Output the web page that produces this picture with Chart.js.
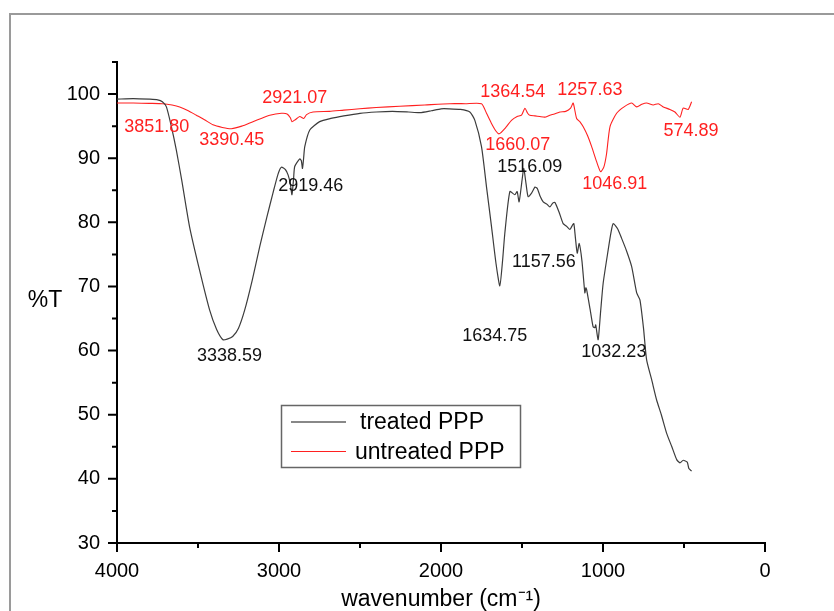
<!DOCTYPE html>
<html lang="en">
<head>
<meta charset="UTF-8">
<title>FTIR - treated / untreated PPP</title>
<script src="https://cdn.jsdelivr.net/npm/chart.js"></script>
<style>
    html, body { margin: 0; padding: 0; background: #fff; }
</style>
</head>
<body>
<canvas id="ftirChart" width="834" height="611"></canvas>
<script>
// treated PPP (dark curve)
const treatedWn = [4000, 3900, 3800, 3749, 3720, 3695, 3665, 3634, 3600, 3552, 3490, 3428, 3385, 3346, 3320, 3286, 3250, 3212, 3165, 3119, 3075, 3037, 3005, 2985, 2960, 2944, 2930, 2920, 2910, 2903, 2872, 2862, 2855, 2848, 2841, 2810, 2749, 2680, 2600, 2500, 2400, 2300, 2200, 2130, 2060, 2000, 1950, 1880, 1822, 1791, 1750, 1719, 1688, 1660, 1637, 1620, 1606, 1575, 1544, 1530, 1518, 1500, 1489, 1475, 1462, 1440, 1420, 1406, 1390, 1369, 1345, 1328, 1310, 1297, 1270, 1246, 1225, 1204, 1190, 1180, 1170, 1159, 1147, 1130, 1112, 1106, 1101, 1080, 1061, 1050, 1045, 1030, 1015, 999, 968, 950, 937, 910, 885, 854, 823, 792, 772, 750, 731, 700, 669, 640, 607, 575, 545, 525, 505, 480, 470, 453];
const treatedT = [99.2, 99.3, 99.2, 99.1, 98.8, 98.0, 95.0, 91.3, 86.5, 79.3, 72.5, 66.3, 63.3, 61.7, 61.8, 62.2, 63.5, 66.3, 71.0, 76.2, 80.8, 84.6, 87.6, 88.6, 88.2, 87.4, 86.0, 84.3, 86.8, 88.7, 89.9, 89.6, 88.4, 90.0, 91.8, 94.4, 95.7, 96.2, 96.6, 97.0, 97.2, 97.3, 97.2, 97.1, 97.4, 97.7, 97.7, 97.6, 97.2, 95.9, 91.8, 85.5, 79.3, 73.5, 70.1, 74.0, 78.3, 84.8, 84.3, 84.8, 83.2, 86.5, 88.4, 86.0, 84.0, 84.6, 85.5, 85.3, 84.2, 83.2, 82.8, 82.4, 83.0, 83.1, 81.5, 79.8, 79.4, 78.9, 79.5, 79.8, 77.5, 75.2, 76.7, 74.0, 69.0, 69.8, 69.5, 66.5, 63.7, 63.6, 64.0, 61.7, 66.0, 70.5, 75.7, 78.5, 79.8, 79.0, 77.5, 75.5, 73.1, 69.0, 67.9, 63.5, 58.6, 55.5, 52.3, 50.0, 47.1, 45.0, 43.0, 42.5, 42.9, 42.6, 41.6, 41.2];

// untreated PPP (red curve)
const untreatedWn = [4000, 3900, 3800, 3718, 3660, 3613, 3560, 3510, 3460, 3408, 3350, 3294, 3230, 3161, 3110, 3057, 2985, 2950, 2930, 2920, 2900, 2872, 2847, 2830, 2790, 2688, 2600, 2502, 2400, 2255, 2100, 1946, 1850, 1750, 1719, 1690, 1660, 1641, 1600, 1565, 1530, 1503, 1482, 1465, 1452, 1420, 1390, 1360, 1328, 1300, 1266, 1230, 1200, 1184, 1163, 1140, 1122, 1095, 1070, 1040, 1015, 995, 978, 957, 916, 870, 823, 792, 760, 731, 690, 659, 628, 587, 556, 525, 505, 474, 453];
const untreatedT = [98.6, 98.6, 98.55, 98.5, 98.3, 98.0, 97.4, 96.7, 96.0, 95.2, 94.8, 94.6, 95.0, 95.7, 96.2, 96.7, 97.0, 96.9, 96.3, 95.7, 96.0, 96.5, 96.2, 96.8, 97.2, 97.3, 97.5, 97.7, 97.9, 98.1, 98.3, 98.5, 98.5, 98.5, 97.0, 95.5, 94.2, 93.8, 94.8, 95.9, 96.5, 96.7, 97.8, 97.0, 96.7, 96.6, 96.5, 96.4, 96.7, 96.9, 97.2, 97.3, 97.8, 98.6, 96.2, 95.6, 94.9, 93.5, 91.8, 89.5, 87.9, 88.6, 90.7, 94.9, 97.0, 98.0, 98.6, 98.0, 98.4, 98.6, 98.3, 98.5, 98.0, 97.6, 97.2, 96.4, 97.8, 97.6, 98.8];

// peak annotations: text, and where the text sits (wavenumber, %T)
const treatedPeakText = ['3338.59', '2919.46', '1634.75', '1516.09', '1157.56', '1032.23'];
const treatedPeakWn = [3305, 2804, 1668, 1452, 1365, 933];
const treatedPeakT = [59.1, 85.6, 62.2, 88.7, 73.8, 59.8];
const untreatedPeakText = ['3851.80', '3390.45', '2921.07', '1364.54', '1257.63', '1660.07', '1046.91', '574.89'];
const untreatedPeakWn = [3755, 3292, 2903, 1557, 1081, 1526, 927, 457];
const untreatedPeakT = [94.9, 92.8, 99.4, 100.3, 100.7, 92.1, 86.05, 94.2];

// axis ticks
const xMajorTicks = [4000, 3000, 2000, 1000, 0];
const xMinorTicks = [3500, 2500, 1500, 500];
const yMajorTicks = [30, 40, 50, 60, 70, 80, 90, 100];
const yMinorTicks = [35, 45, 55, 65, 75, 85, 95, 105];

const seriesNames = ['treated PPP', 'untreated PPP'];
const treatedColor = '#3c3c3c';
const untreatedColor = '#ff2020';

Chart.defaults.font.family = "'Liberation Sans', Arial, sans-serif";
Chart.defaults.color = '#000';

function toPoints(xs, ys) {
    return xs.map((v, i) => ({ x: v, y: ys[i] }));
}

// grey frame, only top and left are visible in the picture
const framePlugin = {
    id: 'frame',
    beforeDraw(chart) {
        const ctx = chart.ctx;
        ctx.save();
        ctx.strokeStyle = '#9a9a9a';
        ctx.lineWidth = 2;
        ctx.beginPath();
        ctx.moveTo(10, 611);
        ctx.lineTo(10, 14);
        ctx.lineTo(834, 14);
        ctx.stroke();
        ctx.restore();
    }
};

// outward tick marks (major + minor), %T label, legend box and peak labels
const decorPlugin = {
    id: 'decor',
    afterDraw(chart) {
        const { ctx, chartArea } = chart;
        const xs = chart.scales.x, ys = chart.scales.y;
        ctx.save();
        ctx.strokeStyle = '#000';
        ctx.lineWidth = 2;
        ctx.beginPath();
        xMajorTicks.forEach(v => { const p = xs.getPixelForValue(v); ctx.moveTo(p, chartArea.bottom); ctx.lineTo(p, chartArea.bottom + 9); });
        xMinorTicks.forEach(v => { const p = xs.getPixelForValue(v); ctx.moveTo(p, chartArea.bottom); ctx.lineTo(p, chartArea.bottom + 5); });
        yMajorTicks.forEach(v => { const p = ys.getPixelForValue(v); ctx.moveTo(chartArea.left, p); ctx.lineTo(chartArea.left - 9, p); });
        yMinorTicks.forEach(v => { const p = ys.getPixelForValue(v); ctx.moveTo(chartArea.left, p); ctx.lineTo(chartArea.left - 5, p); });
        ctx.stroke();

        // y title is horizontal in the original
        ctx.fillStyle = '#000';
        ctx.font = "23px 'Liberation Sans', Arial, sans-serif";
        ctx.textAlign = 'center';
        ctx.textBaseline = 'middle';
        ctx.fillText('%T', 45, 301);

        // peak labels
        ctx.font = "18px 'Liberation Sans', Arial, sans-serif";
        ctx.fillStyle = '#111';
        treatedPeakText.forEach((t, i) => {
            ctx.fillText(t, xs.getPixelForValue(treatedPeakWn[i]), ys.getPixelForValue(treatedPeakT[i]));
        });
        ctx.fillStyle = untreatedColor;
        untreatedPeakText.forEach((t, i) => {
            ctx.fillText(t, xs.getPixelForValue(untreatedPeakWn[i]), ys.getPixelForValue(untreatedPeakT[i]));
        });

        // legend
        ctx.strokeStyle = '#666';
        ctx.lineWidth = 1.5;
        ctx.strokeRect(281.5, 405.5, 239, 62);
        const ds = chart.data.datasets;
        const rows = [422, 451.5];
        const textX = [360, 355];
        ctx.font = "23px 'Liberation Sans', Arial, sans-serif";
        ctx.textAlign = 'left';
        ds.forEach((d, i) => {
            ctx.strokeStyle = i === 0 ? '#888' : d.borderColor;
            ctx.lineWidth = i === 0 ? 2 : 1.2;
            ctx.beginPath();
            ctx.moveTo(291, rows[i]);
            ctx.lineTo(346, rows[i]);
            ctx.stroke();
            ctx.fillStyle = '#000';
            ctx.fillText(d.label, textX[i], rows[i] + 1);
        });
        ctx.restore();
    }
};

new Chart(document.getElementById('ftirChart').getContext('2d'), {
    type: 'line',
    data: {
        datasets: [
            {
                label: seriesNames[0],
                data: toPoints(treatedWn, treatedT),
                borderColor: treatedColor,
                borderWidth: 1.2,
                pointRadius: 0,
                tension: 0.2,
                fill: false
            },
            {
                label: seriesNames[1],
                data: toPoints(untreatedWn, untreatedT),
                borderColor: untreatedColor,
                borderWidth: 1.1,
                pointRadius: 0,
                tension: 0.2,
                fill: false
            }
        ]
    },
    options: {
        responsive: false,
        animation: false,
        layout: { padding: { left: 0, top: 62, right: 69, bottom: 0 } },
        plugins: {
            legend: { display: false },
            tooltip: { enabled: false }
        },
        scales: {
            x: {
                type: 'linear',
                reverse: true,
                min: 0,
                max: 4000,
                grid: { display: false },
                border: { display: true, color: '#000', width: 2 },
                afterBuildTicks: s => { s.ticks = xMajorTicks.map(v => ({ value: v })); },
                afterFit: s => { s.height = 611 - 543; },
                ticks: { font: { size: 20 }, padding: 8, maxRotation: 0, autoSkip: false, callback: v => String(v) },
                title: {
                    display: true,
                    text: 'wavenumber (cm\u207B\u00B9)',
                    font: { size: 23, lineHeight: 1 },
                    padding: { top: 0, bottom: 0 }
                }
            },
            y: {
                min: 30,
                max: 105,
                grid: { display: false },
                border: { display: true, color: '#000', width: 2 },
                afterBuildTicks: s => { s.ticks = yMajorTicks.map(v => ({ value: v })); },
                afterFit: s => { s.width = 117; },
                ticks: { font: { size: 20 }, padding: 9, callback: v => String(v) }
            }
        }
    },
    plugins: [framePlugin, decorPlugin]
});
</script>
</body>
</html>
